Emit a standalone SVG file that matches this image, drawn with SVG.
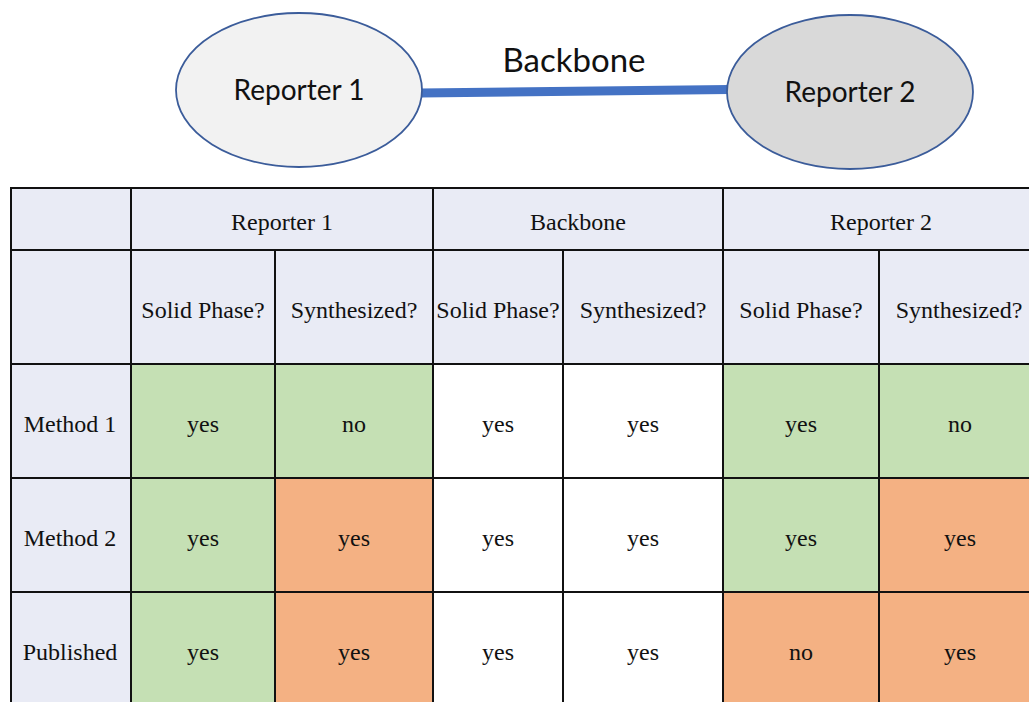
<svg xmlns="http://www.w3.org/2000/svg" width="1029" height="702" viewBox="0 0 1029 702">
<style>
.node ellipse{stroke:#3B5C9A;stroke-width:1.8}
.nt{font-family:Lato,"Liberation Sans",sans-serif;font-size:28px;fill:#111;text-anchor:middle}
.hd{fill:#E9EBF5}
.g{fill:#C5E0B4}
.o{fill:#F4B183}
.w{fill:#FFFFFF}
.t{font-family:"Liberation Serif","Times New Roman",serif;font-size:24px;fill:#111;text-anchor:middle}
.grid line{stroke:#111;stroke-width:2}
</style>
<rect width="1029" height="702" fill="#FFFFFF"/>
<g id="connectors">
<line x1="420" y1="93" x2="729" y2="89.5" stroke="#4472C4" stroke-width="9"/>
<text class="nt" x="574" y="72" style="font-size:33px">Backbone</text>
</g>
<g id="reporter1" class="node">
<ellipse cx="299" cy="90" rx="123" ry="77" fill="#F2F2F2"/>
<text class="nt" x="299" y="100">Reporter 1</text>
</g>
<g id="reporter2" class="node">
<ellipse cx="850" cy="92" rx="123" ry="77" fill="#D9D9D9"/>
<text class="nt" x="850" y="102">Reporter 2</text>
</g>
<g id="table">
<rect class="hd" x="11" y="188" width="1030" height="176"/>
<rect class="hd" x="11" y="364" width="120" height="342"/>
<rect class="g" x="131" y="364" width="302" height="114"/>
<rect class="w" x="433" y="364" width="290" height="114"/>
<rect class="g" x="723" y="364" width="310" height="114"/>
<rect class="g" x="131" y="478" width="144" height="114"/>
<rect class="o" x="275" y="478" width="158" height="114"/>
<rect class="w" x="433" y="478" width="290" height="114"/>
<rect class="g" x="723" y="478" width="156" height="114"/>
<rect class="o" x="879" y="478" width="154" height="114"/>
<rect class="g" x="131" y="592" width="144" height="114"/>
<rect class="o" x="275" y="592" width="158" height="114"/>
<rect class="w" x="433" y="592" width="290" height="114"/>
<rect class="o" x="723" y="592" width="310" height="114"/>
<g class="grid">
<line x1="10" y1="188" x2="1035" y2="188"/>
<line x1="10" y1="250" x2="1035" y2="250"/>
<line x1="10" y1="364" x2="1035" y2="364"/>
<line x1="10" y1="478" x2="1035" y2="478"/>
<line x1="10" y1="592" x2="1035" y2="592"/>
<line x1="11" y1="187" x2="11" y2="706"/>
<line x1="131" y1="187" x2="131" y2="706"/>
<line x1="275" y1="250" x2="275" y2="706"/>
<line x1="433" y1="187" x2="433" y2="706"/>
<line x1="563" y1="250" x2="563" y2="706"/>
<line x1="723" y1="187" x2="723" y2="706"/>
<line x1="879" y1="250" x2="879" y2="706"/>
</g>
<text class="t" x="282" y="230">Reporter 1</text>
<text class="t" x="578" y="230">Backbone</text>
<text class="t" x="881" y="230">Reporter 2</text>
<text class="t" x="203" y="318">Solid Phase?</text>
<text class="t" x="354" y="318">Synthesized?</text>
<text class="t" x="498" y="318">Solid Phase?</text>
<text class="t" x="643" y="318">Synthesized?</text>
<text class="t" x="801" y="318">Solid Phase?</text>
<text class="t" x="959" y="318">Synthesized?</text>
<text class="t" x="70" y="432">Method 1</text>
<text class="t" x="70" y="546">Method 2</text>
<text class="t" x="70" y="660">Published</text>
<text class="t" x="203" y="432">yes</text>
<text class="t" x="354" y="432">no</text>
<text class="t" x="498" y="432">yes</text>
<text class="t" x="643" y="432">yes</text>
<text class="t" x="801" y="432">yes</text>
<text class="t" x="960" y="432">no</text>
<text class="t" x="203" y="546">yes</text>
<text class="t" x="354" y="546">yes</text>
<text class="t" x="498" y="546">yes</text>
<text class="t" x="643" y="546">yes</text>
<text class="t" x="801" y="546">yes</text>
<text class="t" x="960" y="546">yes</text>
<text class="t" x="203" y="660">yes</text>
<text class="t" x="354" y="660">yes</text>
<text class="t" x="498" y="660">yes</text>
<text class="t" x="643" y="660">yes</text>
<text class="t" x="801" y="660">no</text>
<text class="t" x="960" y="660">yes</text>
</g>
</svg>
